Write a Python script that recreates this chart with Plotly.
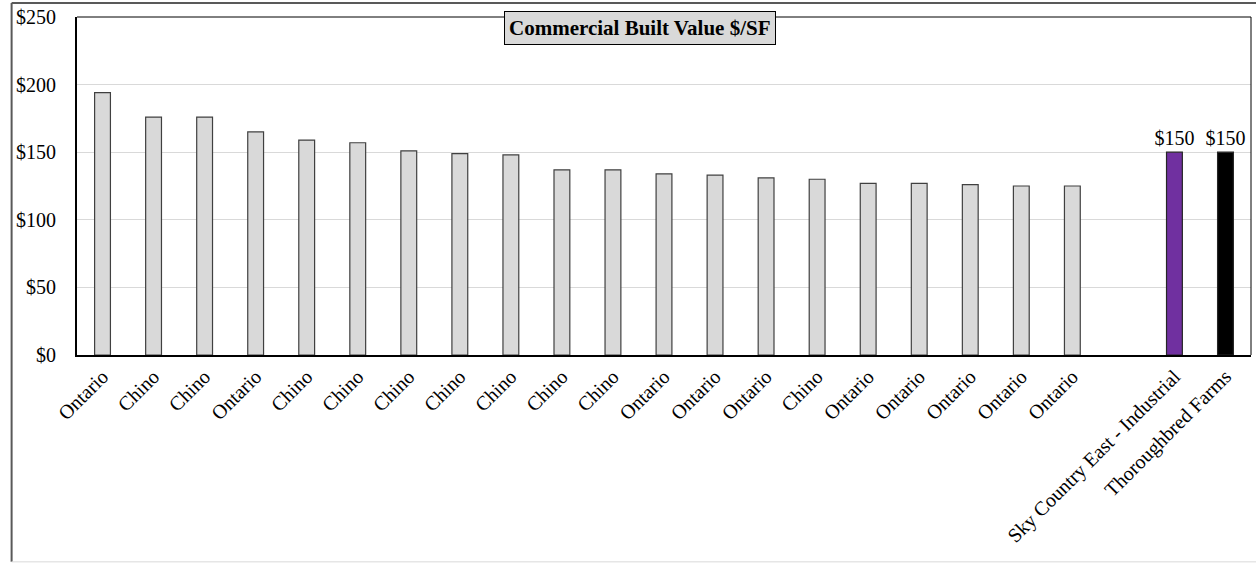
import plotly.graph_objects as go

# Comparable projects: commercial built value per square foot
comp_labels = ["Ontario", "Chino", "Chino", "Ontario", "Chino", "Chino", "Chino",
               "Chino", "Chino", "Chino", "Chino", "Ontario", "Ontario", "Ontario",
               "Chino", "Ontario", "Ontario", "Ontario", "Ontario", "Ontario"]
comp_values = [194, 176, 176, 165, 159, 157, 151, 149, 148, 137, 137, 134, 133,
               131, 130, 127, 127, 126, 125, 125]

subject_labels = ["Sky Country East - Industrial", "Thoroughbred Farms"]
subject_values = [150, 150]
subject_colors = ["#7030a0", "#000000"]

y_ticks = [0, 50, 100, 150, 200, 250]

FONT = "Liberation Serif, Times New Roman, serif"

# one blank slot separates the comparables from the subject projects
comp_x = list(range(len(comp_labels)))
subject_x = [len(comp_labels) + 1 + i for i in range(len(subject_labels))]
tick_vals = comp_x + subject_x
tick_text = comp_labels + subject_labels

BAR_W = 0.31

fig = go.Figure()
fig.add_trace(go.Bar(
    x=comp_x, y=comp_values, width=BAR_W,
    marker=dict(color="#d9d9d9", line=dict(color="#404040", width=1.2)),
    showlegend=False, hoverinfo="y",
))
for xv, yv, col in zip(subject_x, subject_values, subject_colors):
    fig.add_trace(go.Bar(
        x=[xv], y=[yv], width=BAR_W,
        marker=dict(color=col, line=dict(color="#262626", width=1.2)),
        text=[f"${yv:.0f}"], textposition="outside", constraintext="none",
        textfont=dict(family=FONT, size=20, color="#000000"),
        cliponaxis=False, showlegend=False, hoverinfo="y",
    ))

n_slots = len(comp_labels) + 1 + len(subject_labels)

fig.update_layout(
    width=1256, height=563,
    margin=dict(l=77, r=5, t=17, b=208),
    paper_bgcolor="#ffffff", plot_bgcolor="#ffffff",
    barmode="overlay",
    font=dict(family=FONT, size=20, color="#000000"),
    xaxis=dict(
        range=[-0.5, n_slots - 0.5],
        tickmode="array", tickvals=tick_vals, ticktext=tick_text,
        tickangle=-45, tickfont=dict(family=FONT, size=20, color="#000000"),
        showgrid=False, zeroline=False,
        showline=True, linecolor="#000000", linewidth=2,
        ticks="", fixedrange=True,
    ),
    yaxis=dict(
        range=[0, 250],
        tickmode="array", tickvals=y_ticks,
        ticktext=[f"${v}" for v in y_ticks],
        tickfont=dict(family=FONT, size=20, color="#000000"),
        ticklabelstandoff=15,
        showgrid=True, gridcolor="#d9d9d9", gridwidth=1,
        zeroline=False,
        showline=True, linecolor="#000000", linewidth=2,
        ticks="", fixedrange=True,
    ),
    shapes=[
        # top and right edges of the plot area
        dict(type="line", xref="paper", yref="paper", x0=0, x1=1, y0=1, y1=1,
             line=dict(color="#000000", width=1)),
        dict(type="line", xref="paper", yref="paper", x0=1, x1=1, y0=0, y1=1,
             line=dict(color="#000000", width=1)),
        # outer chart frame
        dict(type="line", xref="paper", yref="paper",
             x0=-0.0557, x1=-0.0557, y0=-0.612, y1=1.0414,
             line=dict(color="#595959", width=2)),
        dict(type="line", xref="paper", yref="paper",
             x0=-0.0557, x1=1.01, y0=1.0414, y1=1.0414,
             line=dict(color="#595959", width=2)),
        dict(type="line", xref="paper", yref="paper",
             x0=-0.0557, x1=1.01, y0=-0.612, y1=-0.612,
             line=dict(color="#d9d9d9", width=1)),
    ],
    annotations=[
        dict(text="<b>Commercial Built Value $/SF</b>",
             xref="paper", yref="paper", x=0.4796, y=0.966,
             xanchor="center", yanchor="middle", showarrow=False,
             font=dict(family=FONT, size=21, color="#000000"),
             bgcolor="#d9d9d9", bordercolor="#000000", borderwidth=1,
             borderpad=4),
    ],
)

fig.write_html("out.html")
